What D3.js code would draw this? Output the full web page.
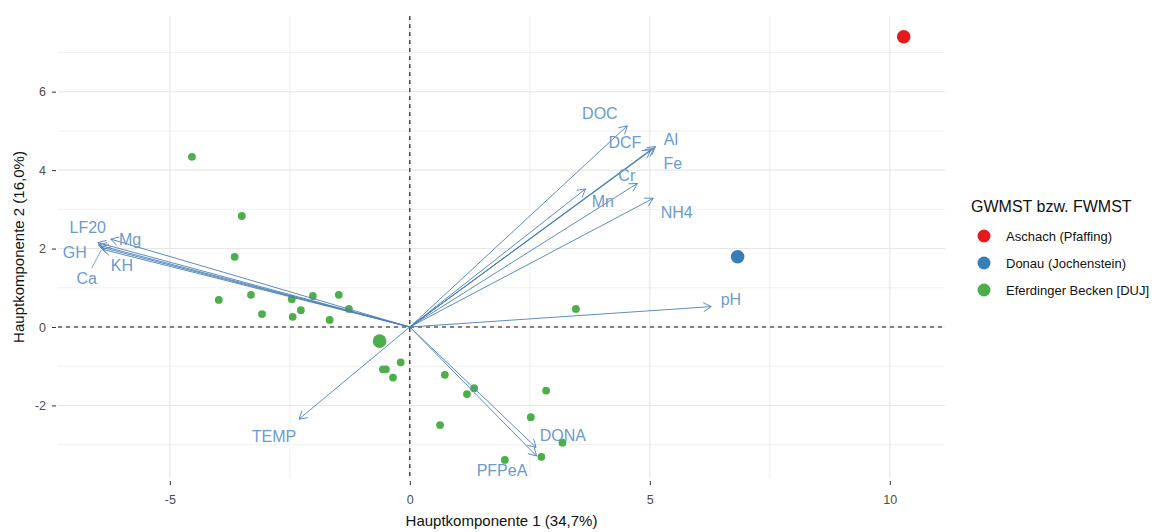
<!DOCTYPE html>
<html><head><meta charset="utf-8">
<script src="https://cdn.jsdelivr.net/npm/d3@7"></script>
<style>body{margin:0;background:#fff;font-family:"Liberation Sans",Arial,sans-serif;}</style>
</head><body>
<svg id="chart" width="1173" height="532"></svg>
<script>
// ---- data ----
const groups = ["Aschach (Pfaffing)", "Donau (Jochenstein)", "Eferdinger Becken [DUJ]"];
const groupColors = ["#E41A1C", "#377EB8", "#4DAF4A"];

const pointX = [10.29, 6.83, -0.63,
  -4.54, -3.50, -3.65, -3.98, -3.31, -3.08, -2.46, -2.27, -2.44, -2.02, -1.48, -1.67, -1.27, 3.46,
  -0.19, -0.56, -0.50, -0.35, 0.73, 1.34, 1.19, 2.84, 2.52, 0.63, 3.18, 2.74, 1.98];
const pointY = [7.40, 1.79, -0.36,
  4.34, 2.83, 1.79, 0.69, 0.82, 0.33, 0.71, 0.43, 0.26, 0.79, 0.82, 0.18, 0.46, 0.46,
  -0.90, -1.08, -1.08, -1.29, -1.22, -1.56, -1.71, -1.62, -2.30, -2.50, -2.95, -3.31, -3.39];
const pointGroup = [0, 1, 2,
  2, 2, 2, 2, 2, 2, 2, 2, 2, 2, 2, 2, 2, 2,
  2, 2, 2, 2, 2, 2, 2, 2, 2, 2, 2, 2, 2];
const pointLarge = [1, 1, 1,
  0, 0, 0, 0, 0, 0, 0, 0, 0, 0, 0, 0, 0, 0,
  0, 0, 0, 0, 0, 0, 0, 0, 0, 0, 0, 0, 0];

const varNames = ["DOC", "DCF", "Al", "Fe", "Cr", "Mn", "NH4", "pH", "LF20", "Mg", "GH", "KH", "Ca", "TEMP", "DONA", "PFPeA"];
const varX = [4.53, 5.02, 5.12, 5.08, 4.74, 3.66, 5.07, 6.28, -6.50, -6.23, -6.49, -6.40, -6.45, -2.31, 2.63, 2.64];
const varY = [5.13, 4.52, 4.60, 4.55, 3.66, 3.52, 3.28, 0.52, 2.15, 2.24, 2.09, 1.98, 2.04, -2.35, -3.07, -3.29];
const labelX = [3.96, 4.48, 5.44, 5.48, 4.52, 4.02, 5.56, 6.69, -6.71, -5.83, -6.98, -6.00, -6.73, -2.83, 3.19, 1.92];
const labelY = [5.46, 4.72, 4.80, 4.18, 3.88, 3.21, 2.93, 0.71, 2.55, 2.24, 1.91, 1.58, 1.25, -2.78, -2.76, -3.65];
const leaderLines = ["Ca"];

const xTicks = [-5, 0, 5, 10];
const xMinor = [-2.5, 2.5, 7.5];
const yTicks = [-2, 0, 2, 4, 6];
const yMinor = [-3, -1, 1, 3, 5, 7];

const xTitle = "Hauptkomponente 1 (34,7%)";
const yTitle = "Hauptkomponente 2 (16,0%)";
const legendTitle = "GWMST bzw. FWMST";

// ---- layout ----
const svg = d3.select("#chart");
const P = {l: 58, r: 945, t: 16, b: 478};
const x = d3.scaleLinear().domain([-7.33, 11.15]).range([P.l, P.r]);
const y = d3.scaleLinear().domain([-3.85, 7.93]).range([P.b, P.t]);
const arrowCol = "#4a80b8", labelCol = "#6b9bd0";
const fmt = d => String(d); // plain hyphen-minus like the reference

const g = svg.append("g");
// grid
g.selectAll(".ymin").data(yMinor).join("line")
  .attr("x1", P.l).attr("x2", P.r).attr("y1", d => y(d)).attr("y2", d => y(d))
  .attr("stroke", "#f0f0f0").attr("stroke-width", 1);
g.selectAll(".xmin").data(xMinor).join("line")
  .attr("y1", P.t).attr("y2", P.b).attr("x1", d => x(d)).attr("x2", d => x(d))
  .attr("stroke", "#f0f0f0").attr("stroke-width", 1);
g.selectAll(".ymaj").data(yTicks).join("line")
  .attr("x1", P.l).attr("x2", P.r).attr("y1", d => y(d)).attr("y2", d => y(d))
  .attr("stroke", "#e6e6e6").attr("stroke-width", 1.1);
g.selectAll(".xmaj").data(xTicks).join("line")
  .attr("y1", P.t).attr("y2", P.b).attr("x1", d => x(d)).attr("x2", d => x(d))
  .attr("stroke", "#e6e6e6").attr("stroke-width", 1.1);

// axes
const xAxis = d3.axisBottom(x).tickValues(xTicks).tickSize(4).tickPadding(10).tickFormat(fmt);
const gx = svg.append("g").attr("transform", `translate(0,${P.b + 3})`).call(xAxis);
gx.select(".domain").remove();
gx.selectAll(".tick line").attr("stroke", "#333");
gx.selectAll("text").attr("fill", "#4d4d4d").attr("font-size", 12.5).attr("font-family", "Liberation Sans, Arial");
const yAxis = d3.axisLeft(y).tickValues(yTicks).tickSize(4).tickPadding(6).tickFormat(fmt);
const gy = svg.append("g").attr("transform", `translate(${P.l - 2},0)`).call(yAxis);
gy.select(".domain").remove();
gy.selectAll(".tick line").attr("stroke", "#333");
gy.selectAll("text").attr("fill", "#4d4d4d").attr("font-size", 12.5).attr("font-family", "Liberation Sans, Arial");

// dashed reference lines
g.append("line").attr("x1", P.l).attr("x2", P.r).attr("y1", y(0)).attr("y2", y(0))
  .attr("stroke", "#111").attr("stroke-width", 1.1).attr("stroke-dasharray", "4,4");
g.append("line").attr("x1", x(0)).attr("x2", x(0)).attr("y1", P.t).attr("y2", P.b)
  .attr("stroke", "#111").attr("stroke-width", 1.1).attr("stroke-dasharray", "4,4");

// points
const pts = pointX.map((d, i) => ({x: d, y: pointY[i], g: pointGroup[i], big: pointLarge[i]}));
g.selectAll(".pt").data(pts).join("circle")
  .attr("cx", d => x(d.x)).attr("cy", d => y(d.y))
  .attr("r", d => d.big ? 6.8 : 3.9)
  .attr("fill", d => groupColors[d.g]);

// arrows
const arrows = varNames.map((n, i) => ({n, x: varX[i], y: varY[i], lx: labelX[i], ly: labelY[i]}));
const ag = g.append("g");
arrows.forEach(a => {
  const x0 = x(0), y0 = y(0), x1 = x(a.x), y1 = y(a.y);
  ag.append("line").attr("x1", x0).attr("y1", y0).attr("x2", x1).attr("y2", y1)
    .attr("stroke", arrowCol).attr("stroke-width", 0.9);
  const ang = Math.atan2(y1 - y0, x1 - x0), L = 9, h = Math.PI / 6;
  const p1 = [x1 - L * Math.cos(ang - h), y1 - L * Math.sin(ang - h)];
  const p2 = [x1 - L * Math.cos(ang + h), y1 - L * Math.sin(ang + h)];
  ag.append("path").attr("d", `M${p1}L${x1},${y1}L${p2}`)
    .attr("fill", "none").attr("stroke", arrowCol).attr("stroke-width", 0.9);
});
// leader lines
arrows.filter(a => leaderLines.includes(a.n)).forEach(a => {
  ag.append("line").attr("x1", x(a.lx) + 5).attr("y1", y(a.ly) - 10)
    .attr("x2", x(a.x) + 1).attr("y2", y(a.y) + 3)
    .attr("stroke", labelCol).attr("stroke-width", 0.9);
});
ag.selectAll(".lab").data(arrows).join("text")
  .attr("x", d => x(d.lx)).attr("y", d => y(d.ly)).attr("dy", "0.36em")
  .attr("text-anchor", "middle").attr("fill", labelCol)
  .attr("font-size", 16).attr("font-family", "Liberation Sans, Arial").text(d => d.n);

// axis titles
svg.append("text").attr("x", (P.l + P.r) / 2).attr("y", 526).attr("text-anchor", "middle")
  .attr("font-size", 15).attr("fill", "#111").attr("font-family", "Liberation Sans, Arial").text(xTitle);
svg.append("text").attr("transform", `translate(24,${(P.t + P.b) / 2}) rotate(-90)`)
  .attr("text-anchor", "middle").attr("font-size", 15).attr("fill", "#111")
  .attr("font-family", "Liberation Sans, Arial").text(yTitle);

// legend
const lg = svg.append("g").attr("transform", "translate(971,0)");
lg.append("text").attr("x", 0).attr("y", 212).attr("font-size", 16).attr("fill", "#111")
  .attr("font-family", "Liberation Sans, Arial").text(legendTitle);
groups.forEach((name, i) => {
  lg.append("circle").attr("cx", 13).attr("cy", 236 + i * 27).attr("r", 6.5).attr("fill", groupColors[i]);
  lg.append("text").attr("x", 35).attr("y", 236 + i * 27).attr("dy", "0.36em")
    .attr("font-size", 13).attr("fill", "#111").attr("font-family", "Liberation Sans, Arial").text(name);
});
</script>
</body></html>
